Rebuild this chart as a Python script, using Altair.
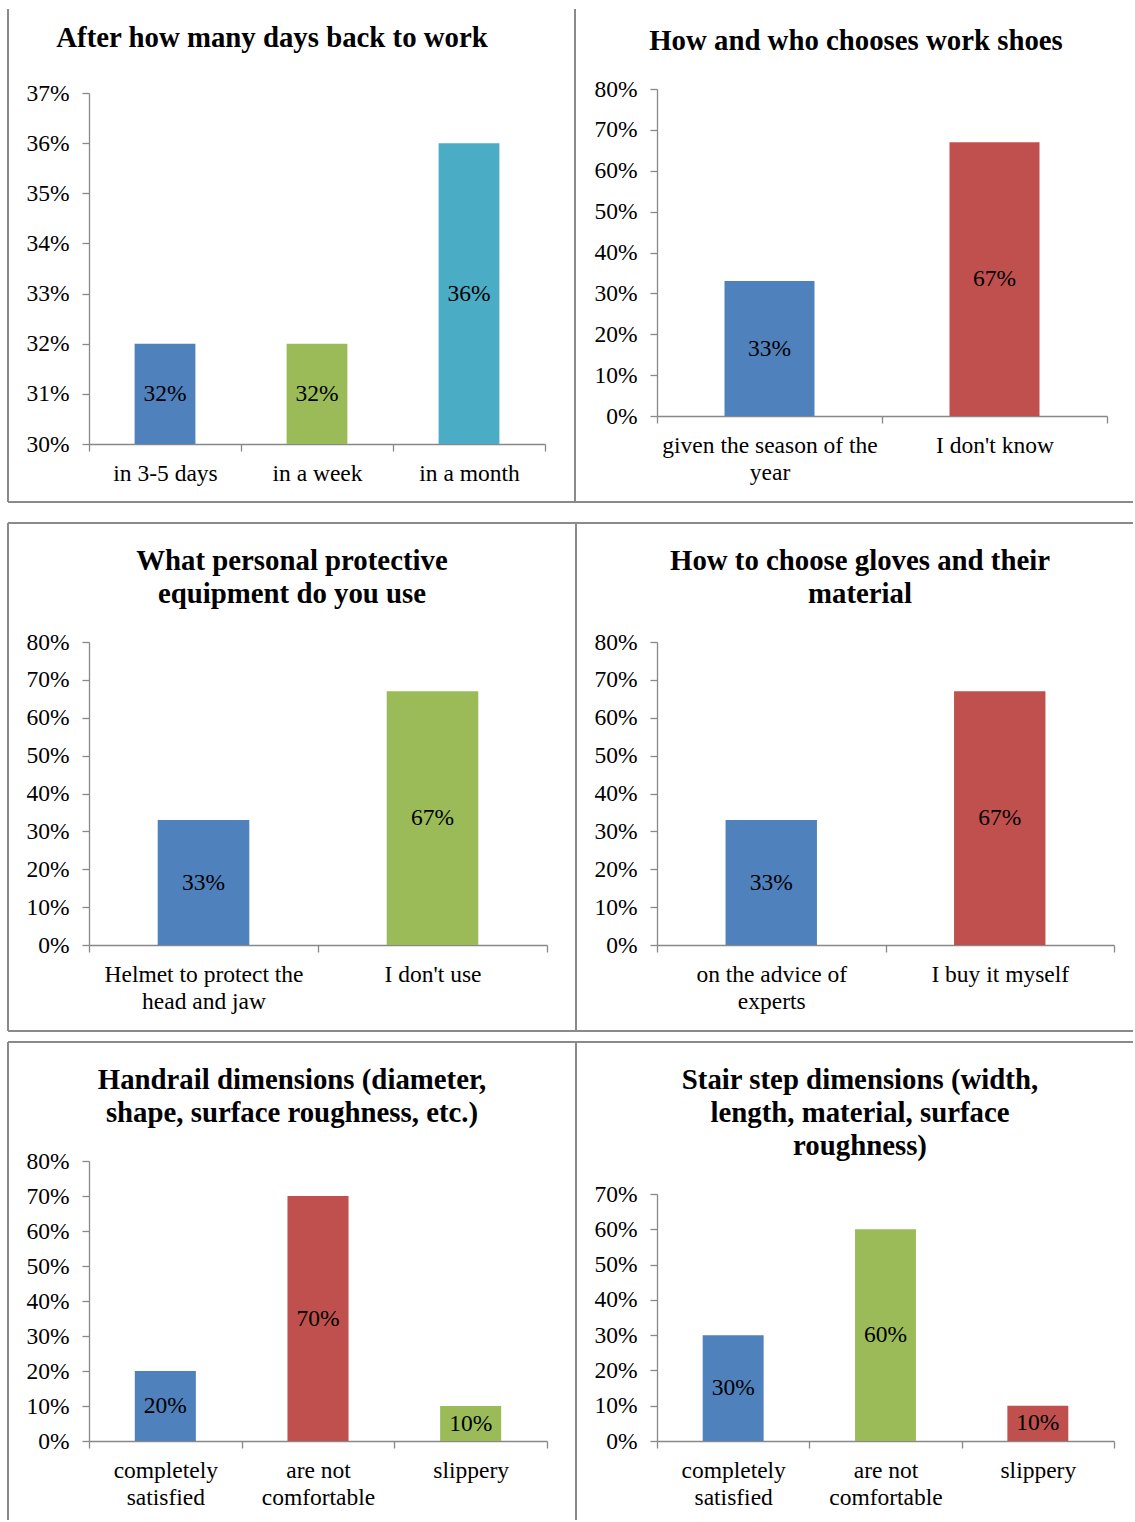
import altair as alt
import pandas as pd

FONT = "Liberation Serif"
LABEL_SIZE = 23.5
TITLE_SIZE = 28.8
BLUE, RED, GREEN, TEAL = "#4F81BD", "#C0504D", "#9BBB59", "#4BACC6"
FRAME_GRAY = "#8A8A8A"
AXIS_GRAY = "#888888"

# ---- survey results -------------------------------------------------------
DAYS_TITLE = "After how many days back to work"
DAYS_CATS = ["in 3-5 days", "in a week", "in a month"]
DAYS_VALUES = [0.32, 0.32, 0.36]
DAYS_TICKS = [0.30, 0.31, 0.32, 0.33, 0.34, 0.35, 0.36, 0.37]

SHOES_TITLE = "How and who chooses work shoes"
SHOES_CATS = ["given the season of the\nyear", "I don't know"]
SHOES_VALUES = [0.33, 0.67]

PPE_TITLE = "What personal protective\nequipment do you use"
PPE_CATS = ["Helmet to protect the\nhead and jaw", "I don't use"]
PPE_VALUES = [0.33, 0.67]

GLOVES_TITLE = "How to choose gloves and their\nmaterial"
GLOVES_CATS = ["on the advice of\nexperts", "I buy it myself"]
GLOVES_VALUES = [0.33, 0.67]

HANDRAIL_TITLE = "Handrail dimensions (diameter,\nshape, surface roughness, etc.)"
HANDRAIL_CATS = ["completely\nsatisfied", "are not\ncomfortable", "slippery"]
HANDRAIL_VALUES = [0.20, 0.70, 0.10]

STAIR_TITLE = "Stair step dimensions (width,\nlength, material, surface\nroughness)"
STAIR_CATS = ["completely\nsatisfied", "are not\ncomfortable", "slippery"]
STAIR_VALUES = [0.30, 0.60, 0.10]

TICKS_80 = [0.0, 0.1, 0.2, 0.3, 0.4, 0.5, 0.6, 0.7, 0.8]
TICKS_70 = [0.0, 0.1, 0.2, 0.3, 0.4, 0.5, 0.6, 0.7]

ONE_ROW = pd.DataFrame({"k": [0]})


def rule(x, y, x2=None, y2=None, opacity=1.0):
    enc = {"x": alt.value(x), "y": alt.value(y)}
    if x2 is not None:
        enc["x2"] = alt.value(x2)
    if y2 is not None:
        enc["y2"] = alt.value(y2)
    return (
        alt.Chart(ONE_ROW)
        .mark_rule(color=FRAME_GRAY, strokeWidth=2, opacity=opacity)
        .encode(**enc)
    )


def hline(y, x1, x2, opacity=1.0):
    return rule(x1, y, x2=x2, opacity=opacity)


def vline(x, y1, y2):
    return rule(x, y1, y2=y2)


def panel(title, cats, values, colors, ticks, size, title_at, frame, y_range=None):
    width, height = size
    lo, hi = ticks[0], ticks[-1]
    df = pd.DataFrame({"category": cats, "value": values})

    x_enc = alt.X(
        "category:N",
        sort=cats,
        title=None,
        scale=alt.Scale(domain=cats, paddingInner=0, paddingOuter=0),
        axis=alt.Axis(
            labelAngle=0,
            tickBand="extent",
            labelPadding=10,
            labelExpr="split(datum.label, '\\n')",
            labelLineHeight=27.5,
            labelLimit=400,
        ),
    )
    if y_range is None:
        y_scale = alt.Scale(domain=[lo, hi], nice=False, zero=False)
    else:
        y_scale = alt.Scale(domain=[lo, hi], range=list(y_range), nice=False, zero=False)
    y_enc = alt.Y(
        "value:Q",
        title=None,
        scale=y_scale,
        axis=alt.Axis(
            values=ticks,
            tickCount=len(ticks) + 2,
            format=".0%",
            labelPadding=13,
            labelFlush=False,
            labelOverlap=False,
        ),
    )

    base = alt.Chart(df)
    bars = base.mark_bar(width=alt.RelativeBandSize(0.4)).encode(
        x=x_enc,
        y=y_enc,
        y2=alt.datum(lo),
        color=alt.Color(
            "category:N", scale=alt.Scale(domain=cats, range=colors), legend=None
        ),
    )
    labels = (
        base.transform_calculate(mid=f"(datum.value + {lo}) / 2")
        .mark_text(
            font=FONT, fontSize=LABEL_SIZE, color="#000000",
            baseline="middle", align="center",
        )
        .encode(
            x=alt.X("category:N", sort=cats, title=None),
            y=alt.Y("mid:Q", title=None),
            text=alt.Text("value:Q", format=".0%"),
        )
    )
    tx, ty = title_at
    heading = (
        alt.Chart(ONE_ROW)
        .mark_text(
            text=title.split("\n"), font=FONT, fontSize=TITLE_SIZE,
            fontWeight="bold", align="center", baseline="alphabetic",
            lineHeight=33, color="#000000",
        )
        .encode(x=alt.value(tx), y=alt.value(ty))
    )
    return alt.layer(bars, labels, heading, *frame).properties(width=width, height=height)


p1 = panel(
    DAYS_TITLE, DAYS_CATS, DAYS_VALUES, [BLUE, GREEN, TEAL], DAYS_TICKS,
    (456, 355), (183, -42),
    [
        hline(-89, -89, -85, opacity=0.0),
        vline(-81, -80, 413),
        vline(486, -80, 413),
        hline(413, -81, 486),
    ],
    y_range=(355, 4),
)
p2 = panel(
    SHOES_TITLE, SHOES_CATS, SHOES_VALUES, [BLUE, RED], TICKS_80,
    (450, 327), (199, -39),
    [hline(413, -82, 476)],
)
p3 = panel(
    PPE_TITLE, PPE_CATS, PPE_VALUES, [BLUE, GREEN], TICKS_80,
    (458, 303), (203, -72),
    [
        hline(-119, -81, 487),
        vline(-81, -119, 389),
        vline(487, -119, 389),
        hline(389, -81, 487),
    ],
)
p4 = panel(
    GLOVES_TITLE, GLOVES_CATS, GLOVES_VALUES, [BLUE, RED], TICKS_80,
    (457, 303), (203, -72),
    [hline(-119, -81, 476), hline(389, -81, 476)],
)
p5 = panel(
    HANDRAIL_TITLE, HANDRAIL_CATS, HANDRAIL_VALUES, [BLUE, RED, GREEN], TICKS_80,
    (458, 298), (203, -54),
    [
        hline(-101, -81, 487),
        vline(-81, -101, 377),
        vline(487, -101, 377),
    ],
    y_range=(298, 18),
)
p6 = panel(
    STAIR_TITLE, STAIR_CATS, STAIR_VALUES, [BLUE, GREEN, RED], TICKS_70,
    (457, 298), (203, -54),
    [hline(-101, -81, 476)],
    y_range=(298, 51),
)

chart = (
    alt.concat(
        p1, p2, p3, p4, p5, p6,
        columns=2,
        spacing={"row": 198, "column": 110},
        bounds="flush",
        align="each",
    )
    .resolve_scale(color="independent")
    .properties(padding=0, background="white")
    .configure_view(stroke=None)
    .configure_axis(
        labelFont=FONT,
        labelFontSize=LABEL_SIZE,
        labelColor="#000000",
        domainColor=AXIS_GRAY,
        tickColor=AXIS_GRAY,
        domainWidth=1.3,
        tickWidth=1.3,
        tickSize=7,
        grid=False,
    )
)

chart.save("out.html", embed_options={"renderer": "svg", "actions": False})
